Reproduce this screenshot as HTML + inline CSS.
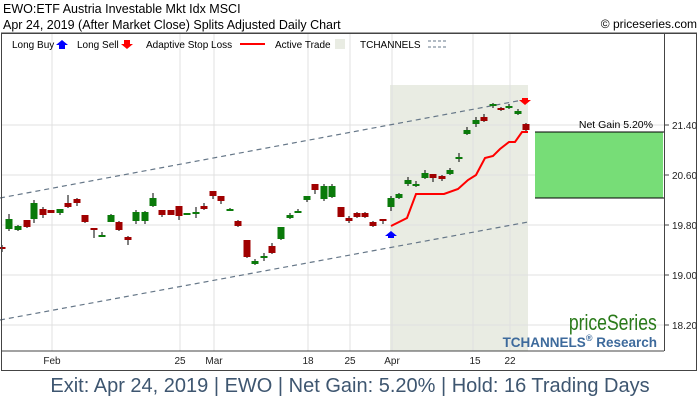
<!DOCTYPE html>
<html><head><meta charset="utf-8"><style>
body{margin:0;background:#fff;width:700px;height:400px;overflow:hidden;font-family:"Liberation Sans",sans-serif}
</style></head><body>
<svg width="700" height="400" xmlns="http://www.w3.org/2000/svg" font-family="Liberation Sans, sans-serif">
<text x="3" y="13" font-size="12.5">EWO:ETF Austria Investable Mkt Idx MSCI</text>
<text x="3" y="29" font-size="12.5">Apr 24, 2019 (After Market Close)  Splits Adjusted Daily Chart</text>
<text x="697" y="28" font-size="12" text-anchor="end">© priceseries.com</text>
<rect x="390" y="85" width="138" height="266" fill="#e9ece3"/>
<g stroke="#e0e0e0" stroke-width="1">
<line x1="52" y1="33" x2="52" y2="351"/><line x1="180" y1="33" x2="180" y2="351"/><line x1="214" y1="33" x2="214" y2="351"/>
<line x1="308" y1="33" x2="308" y2="351"/><line x1="350" y1="33" x2="350" y2="351"/><line x1="392" y1="33" x2="392" y2="351"/>
<line x1="473" y1="33" x2="473" y2="351"/><line x1="510" y1="33" x2="510" y2="351"/>
<line x1="1" y1="125" x2="664" y2="125"/><line x1="1" y1="175" x2="664" y2="175"/><line x1="1" y1="225" x2="664" y2="225"/><line x1="1" y1="275" x2="664" y2="275"/><line x1="1" y1="325" x2="664" y2="325"/>
</g>
<g stroke="#667788" stroke-width="1.2" stroke-dasharray="5,4">
<line x1="0" y1="198" x2="528" y2="99"/><line x1="0" y1="320" x2="528" y2="222"/>
</g>
<g id="c"></g>
<polyline points="391,226 407,218 416,194 444,194 458,189 468,180 476,175 485,158 493,156 500,149 509,142 515,142 522,132 528,132" fill="none" stroke="#f00" stroke-width="2"/>
<polygon points="391,231 385,236 388,236 388,238 394,238 394,236 397,236" fill="#00f"/>
<polygon points="525,105 519,100 522,100 522,98 528,98 528,100 531,100" fill="#f00"/>
<rect x="535" y="132" width="128" height="66" fill="#77dd77" stroke="#000" stroke-width="0"/>
<line x1="535" y1="132" x2="664" y2="132" stroke="#000"/><line x1="535" y1="198" x2="664" y2="198" stroke="#000"/>
<text x="653" y="128" font-size="10.5" text-anchor="end">Net Gain 5.20%</text>
<line x1="1" y1="33" x2="697" y2="33" stroke="#444"/>
<line x1="664.5" y1="33" x2="664.5" y2="351" stroke="#444"/>
<line x1="1" y1="351" x2="664" y2="351" stroke="#444"/>
<rect x="1.5" y="33.5" width="695" height="337" fill="none" stroke="#444"/>
<g font-size="10">
<text x="12" y="48">Long Buy</text><polygon points="62,40 56,45 59,45 59,49 65,49 65,45 68,45" fill="#00f"/>
<text x="77" y="48">Long Sell</text><polygon points="127,49 121,44 124,44 124,40 130,40 130,44 133,44" fill="#f00"/>
<text x="146" y="48">Adaptive Stop Loss</text><line x1="240" y1="44" x2="265" y2="44" stroke="#f00" stroke-width="2"/>
<text x="275" y="48">Active Trade</text><rect x="335" y="39" width="10" height="10" fill="#e9ece3"/>
<text x="360" y="48">TCHANNELS</text><line x1="428" y1="41" x2="446" y2="41" stroke="#667788" stroke-dasharray="3,2"/><line x1="428" y1="47" x2="446" y2="47" stroke="#667788" stroke-dasharray="3,2"/>
</g>
<g font-size="10" fill="#222">
<text x="672" y="129">21.40</text><text x="672" y="179">20.60</text><text x="672" y="229">19.80</text><text x="672" y="279">19.00</text><text x="672" y="329">18.20</text>
<text x="52" y="364" text-anchor="middle">Feb</text><text x="180" y="364" text-anchor="middle">25</text><text x="214" y="364" text-anchor="middle">Mar</text>
<text x="308" y="364" text-anchor="middle">18</text><text x="350" y="364" text-anchor="middle">25</text><text x="392" y="364" text-anchor="middle">Apr</text>
<text x="475" y="364" text-anchor="middle">15</text><text x="510" y="364" text-anchor="middle">22</text>
</g>
<g stroke="#444"><line x1="664" y1="125" x2="669" y2="125"/><line x1="664" y1="175" x2="669" y2="175"/><line x1="664" y1="225" x2="669" y2="225"/><line x1="664" y1="275" x2="669" y2="275"/><line x1="664" y1="325" x2="669" y2="325"/></g>
<text x="657" y="330" font-size="22" fill="#2a7a1a" text-anchor="end" transform="scale(0.8,1) translate(164,0)">priceSeries</text>
<text x="657" y="347" font-size="13.5" font-weight="bold" fill="#3d6a9c" text-anchor="end">TCHANNELS<tspan font-size="9" dy="-6">®</tspan><tspan dy="6"> Research</tspan></text>
<text x="350" y="392" font-size="20" fill="#3e5670" text-anchor="middle">Exit: Apr 24, 2019 | EWO | Net Gain: 5.20% | Hold: 16 Trading Days</text>
</svg>
<script>
var d=[[2,'R',247,249,245,252],[9,'G',219,229,214,231],[18,'G',226,230,225,231],[27,'R',220,227,220,228],[34,'G',203,219,200,223],[43,'R',209,215,207,218],[51,'R',210,213,210,213],[60,'G',209,213,209,215],[68,'R',203,207,195,208],[77,'R',199,203,198,206],[85,'R',215,222,215,223],[94,'R',228,230,228,238],[102,'G',235,236,232,237],[111,'G',215,222,214,222],[119,'R',222,230,221,231],[128,'R',237,240,236,245],[136,'G',212,221,210,224],[145,'G',212,221,211,224],[153,'G',198,206,193,207],[162,'R',210,215,210,217],[171,'R',210,215,210,215],[179,'R',206,216,206,220],[187,'G',213,214,213,215],[196,'G',212,213,207,218],[204,'R',206,209,203,210],[213,'R',191,196,191,199],[221,'R',196,201,196,204],[230,'G',209,210,208,211],[238,'R',221,226,220,227],[247,'R',240,257,240,258],[255,'G',261,264,259,265],[264,'G',256,257,253,261],[272,'R',246,253,243,254],[281,'G',227,239,227,240],[290,'G',215,218,213,219],[298,'G',211,212,209,213],[307,'G',196,200,196,202],[315,'R',184,190,184,194],[324,'G',186,199,184,201],[332,'G',186,197,184,198],[341,'R',207,217,207,217],[349,'R',218,221,216,223],[357,'R',213,217,212,218],[365,'R',213,217,212,218],[373,'R',222,226,221,227],[383,'R',219,221,219,224],[391,'G',198,207,196,211],[399,'G',194,198,193,199],[408,'G',180,184,177,186],[416,'G',184,185,181,187],[425,'G',173,178,170,179],[433,'R',174,178,174,182],[442,'R',176,179,175,181],[450,'G',170,174,168,175],[459,'G',157,158,153,162],[467,'G',130,134,127,135],[476,'G',120,124,117,127],[484,'R',117,121,114,122],[493,'G',104,106,103,108],[501,'R',108,109,107,111],[509,'G',106,107,104,109],[518,'G',111,114,109,115],[526,'R',124,130,123,131]];
var g=document.getElementById('c'),s='';
d.forEach(function(a){var col=a[1]=='G'?'#0a7a0a':'#a00000';
s+='<line x1="'+a[0]+'" y1="'+a[4]+'" x2="'+a[0]+'" y2="'+a[5]+'" stroke="#000"/>';
s+='<rect x="'+(a[0]-3.5)+'" y="'+a[2]+'" width="7" height="'+Math.max(2,a[3]-a[2])+'" fill="'+col+'"/>';});
g.innerHTML=s;
</script>
</body></html>
